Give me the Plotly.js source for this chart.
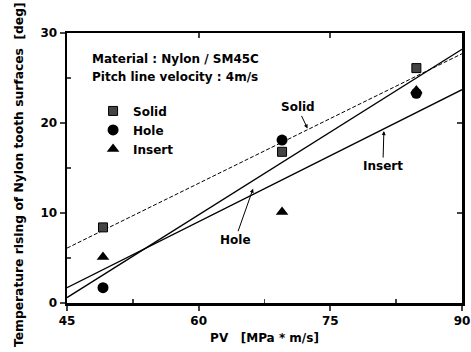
<!DOCTYPE html>
<html><head><meta charset="utf-8">
<script src="https://cdn.plot.ly/plotly-3.0.1.min.js"></script>
<style>html,body{margin:0;padding:0;background:#fff}#c{width:471px;height:352px}</style>
</head><body><div id="c"></div>
<script>
// Measured points
const pv = [49.1, 69.5, 84.8];
const solidTemp = [8.4, 16.8, 26.1];
const holeTemp = [1.7, 18.1, 23.3];
const insertTemp = [5.1, 10.1, 23.6];
// Fitted lines (endpoints)
const lineX = [45, 90];
const solidFit = [6.1, 27.7];
const holeFit = [0.6, 28.2];
const insertFit = [1.7, 23.7];
const xTicks = [45, 60, 75, 90];
const yTicks = [0, 10, 20, 30];

const F = "DejaVu Sans, Verdana, sans-serif";
const fnt = (s) => ({family: F, size: s, color: '#000', weight: 'bold'});

const traces = [
  {x: lineX, y: solidFit, mode: 'lines', line: {color: '#000', width: 1, dash: '4px,2px'}, showlegend: false, hoverinfo: 'skip'},
  {x: lineX, y: holeFit, mode: 'lines', line: {color: '#000', width: 1.3}, showlegend: false, hoverinfo: 'skip'},
  {x: lineX, y: insertFit, mode: 'lines', line: {color: '#000', width: 1.3}, showlegend: false, hoverinfo: 'skip'},
  {x: pv, y: solidTemp, name: 'Solid', mode: 'markers', marker: {symbol: 'square', size: 9, color: '#444', line: {color: '#000', width: 1}}},
  {x: pv, y: holeTemp, name: 'Hole', mode: 'markers', marker: {symbol: 'circle', size: 11, color: '#000'}},
  {x: pv, y: insertTemp, name: 'Insert', mode: 'markers', marker: {symbol: 'triangle-up', size: 11, color: '#000'}}
];

const layout = {
  width: 471, height: 352,
  margin: {l: 67, r: 9, t: 33, b: 49},
  paper_bgcolor: '#fff', plot_bgcolor: '#fff',
  font: fnt(12),
  showlegend: true,
  legend: {x: 0.066, y: 0.765, xanchor: 'left', yanchor: 'top', bgcolor: 'rgba(0,0,0,0)', font: fnt(12), tracegroupgap: 0, itemwidth: 30},
  xaxis: {range: [45, 90], tickvals: xTicks, ticktext: xTicks.map(String), ticks: 'outside', ticklen: 5, tickwidth: 2,
    minor: {tickvals: [52.5, 67.5, 82.5], ticks: 'inside', ticklen: 4, tickwidth: 1.5},
    showline: true, linewidth: 2.5, linecolor: '#000', showgrid: false, zeroline: false, tickfont: fnt(12),
    title: {text: 'PV   [MPa * m/s]', font: fnt(12), standoff: 7}},
  yaxis: {range: [0, 30], tickvals: yTicks, ticktext: yTicks.map(String), ticks: 'outside', ticklen: 5, tickwidth: 2,
    minor: {tickvals: [5, 15, 25], ticks: 'inside', ticklen: 4, tickwidth: 1.5},
    showline: true, linewidth: 2.5, linecolor: '#000', showgrid: false, zeroline: false, tickfont: fnt(12)},
  xaxis2: {range: [45, 90], overlaying: 'x', side: 'top', tickvals: [60, 75], showticklabels: false, ticks: 'inside', ticklen: 5, tickwidth: 2,
    showline: true, linewidth: 2.5, linecolor: '#000', showgrid: false, zeroline: false},
  yaxis2: {range: [0, 30], overlaying: 'y', side: 'right', tickvals: [10, 20], showticklabels: false, ticks: 'inside', ticklen: 5, tickwidth: 2,
    showline: true, linewidth: 2.5, linecolor: '#000', showgrid: false, zeroline: false},
  annotations: [
    {xref: 'x', yref: 'y', x: 47.6, y: 27.1, xanchor: 'left', yanchor: 'middle', text: 'Material : Nylon / SM45C', showarrow: false, font: fnt(12)},
    {xref: 'x', yref: 'y', x: 47.6, y: 25.1, xanchor: 'left', yanchor: 'middle', text: 'Pitch line velocity : 4m/s', showarrow: false, font: fnt(12)},
    {xref: 'x', yref: 'y', x: 72.4, y: 19.4, text: 'Solid', showarrow: true, ax: -10, ay: -21, arrowhead: 2, arrowsize: 0.8, arrowwidth: 1, arrowcolor: '#000', font: fnt(12)},
    {xref: 'x', yref: 'y', x: 81.1, y: 19.1, text: 'Insert', showarrow: true, ax: -1, ay: 35, arrowhead: 2, arrowsize: 0.8, arrowwidth: 1, arrowcolor: '#000', font: fnt(12)},
    {xref: 'x', yref: 'y', x: 66.2, y: 12.7, text: 'Hole', showarrow: true, ax: -18, ay: 51, arrowhead: 2, arrowsize: 0.8, arrowwidth: 1, arrowcolor: '#000', font: fnt(12)},
    {xref: 'paper', yref: 'paper', x: -0.12, y: -0.17, xanchor: 'center', yanchor: 'bottom', textangle: -90, showarrow: false,
     text: 'Temperature rising of Nylon tooth surfaces  [deg]', font: fnt(12.3)}
  ]
};
// attach a dummy trace to overlay axes so they are drawn
traces.push({x: [45], y: [0], xaxis: 'x2', yaxis: 'y2', mode: 'markers', marker: {opacity: 0}, showlegend: false, hoverinfo: 'skip'});
Plotly.newPlot('c', traces, layout, {displayModeBar: false, staticPlot: true});
</script></body></html>
